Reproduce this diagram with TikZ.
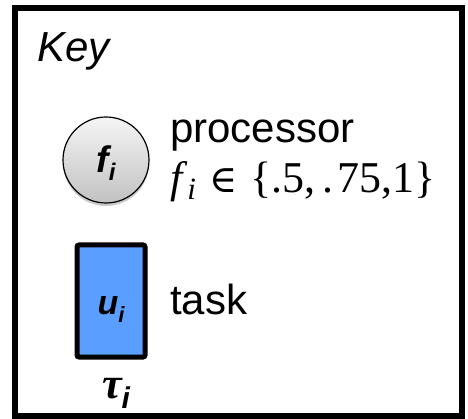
\documentclass[tikz,border=0pt]{standalone}
\usepackage{fontspec}
\setmainfont{Liberation Sans}
\newfontfamily\mathserif{Liberation Serif}
\newfontfamily\symfont{DejaVu Serif}
\usetikzlibrary{shadows}
\definecolor{taskblue}{RGB}{90,158,255}
\tikzset{
  frame/.style={draw=black, line width=6pt},
  label/.style={inner sep=0pt, anchor=base west, font=\fontsize{42}{46}\selectfont},
  procnode/.style={circle, draw=black, line width=1.2pt, minimum size=86pt,
    top color=white!96!black, bottom color=white!76!black,
    drop shadow={shadow xshift=0pt, shadow yshift=-3pt, opacity=0.35, fill=black!60}},
  tasknode/.style={rectangle, draw=black, line width=5pt, rounded corners=2pt,
    fill=taskblue, minimum width=68pt, minimum height=112pt},
}
\begin{document}
\begin{tikzpicture}[x=1pt, y=-1pt]
  \useasboundingbox (0,0) rectangle (468,419);
  % outer frame of the key
  \draw[frame] (15,8) rectangle (462,416);
  \node[label, font=\fontsize{42}{46}\selectfont\itshape] (key) at (37,62) {Key};
  % processor symbol
  \node[procnode] (proc) at (106,160) {};
  \node[inner sep=0pt, anchor=base, font=\fontsize{37}{40}\selectfont\bfseries\itshape] (procf) at (106,173) {f\raisebox{-8pt}{\fontsize{24}{26}\selectfont i}};
  \node[label] (proclabel) at (170,143) {processor};
  \node[label, font=\fontsize{44}{48}\selectfont\mathserif] (procset) at (170,193)
    {\textit{f}\raisebox{-7pt}{\fontsize{31}{33}\selectfont\itshape i}\hspace{0.3em}{\symfont\fontsize{38}{42}\selectfont ∈}\hspace{0.3em}\{.5,\hspace{0.15em}.\hspace{0.1em}75,1\}};
  % task symbol
  \node[tasknode] (task) at (111,301) {};
  \node[inner sep=0pt, anchor=base, font=\fontsize{34}{38}\selectfont\bfseries\itshape] (tasku) at (111,315) {u\raisebox{-7pt}{\fontsize{22}{24}\selectfont i}};
  \node[label] (tasklabel) at (170,315) {task};
  \node[inner sep=0pt, anchor=base, font=\fontsize{44}{48}\selectfont] (taskname) at (116,398)
    {{\mathserif\bfseries\itshape τ}\raisebox{-10pt}{\fontsize{30}{32}\selectfont\bfseries\itshape i}};
\end{tikzpicture}
\end{document}
